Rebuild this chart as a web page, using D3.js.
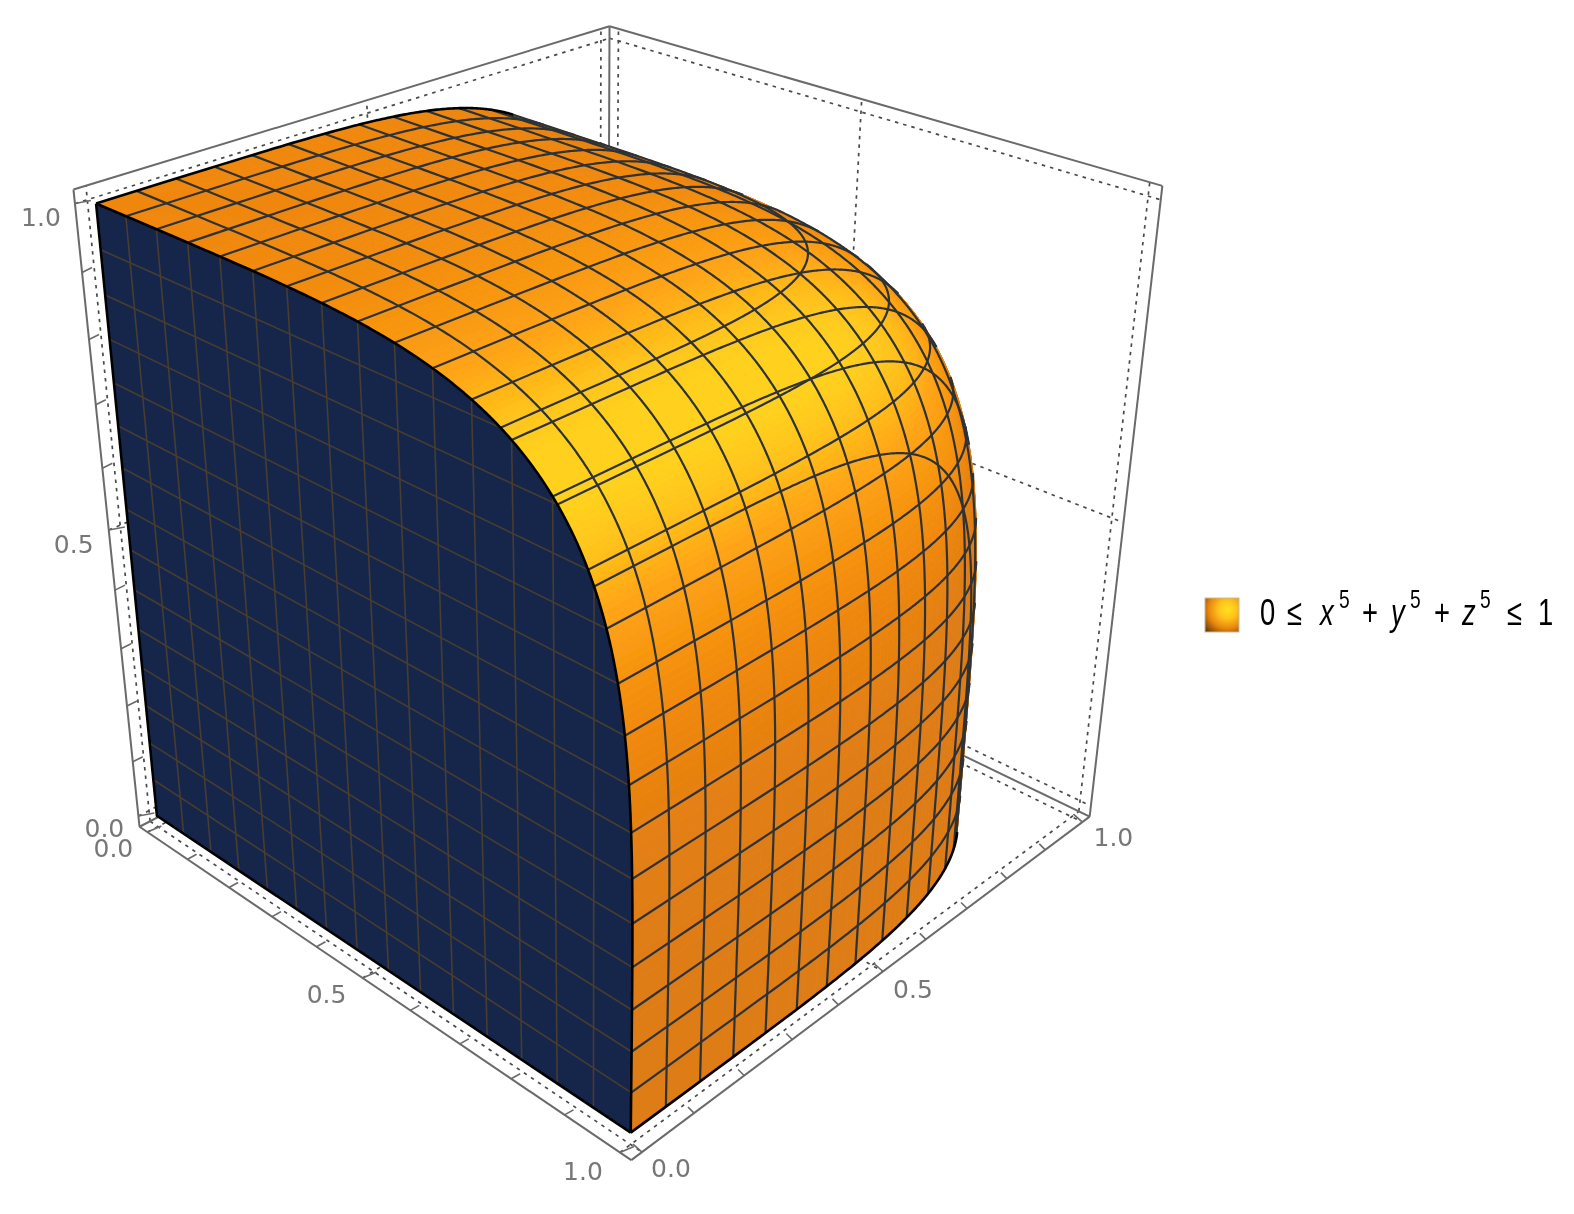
<!DOCTYPE html>
<html><head><meta charset="utf-8">
<script src="https://cdn.jsdelivr.net/npm/d3@7/dist/d3.min.js"></script>
<style>html,body{margin:0;padding:0;background:#fff}svg{display:block}</style>
</head><body><svg id="chart" width="1574" height="1214"><defs><filter id="soft" x="0" y="0" width="100%" height="100%" filterUnits="userSpaceOnUse"><feGaussianBlur stdDeviation="0.45"/></filter></defs></svg>
<script>
// ---- chart content -------------------------------------------------
const exponent = 5;                       // 0 <= x^5 + y^5 + z^5 <= 1
const meshLevels = [1/15,2/15,3/15,4/15,5/15,6/15,7/15,8/15,9/15,10/15,11/15,12/15,13/15,14/15];
const gridLevels = [0, 0.5, 1];
const minorTicks = [0,0.1,0.2,0.3,0.4,0.5,0.6,0.7,0.8,0.9,1];
const tickLabels = ["0.0","0.5","1.0"];
const labelValues = [0,0.5,1];
const boxPad = 0.02;
const legendTokens = ["0","≤","x","5","+","y","5","+","z","5","≤","1"];
const legendX = [1260,1287,1320,1339,1362,1391,1410,1434,1462,1480,1507,1538];
// ---- camera calibration: world point -> pixel of the reference ------
const P0=-boxPad, P1=1+boxPad;
const anchors = [
 [P0,P0,P0,139.3,828.3],[P0,P1,P0,631.7,1160],[P1,P1,P0,1091.7,819.3],
 [P0,P0,P1,71.7,189.3],[P1,P1,P1,1165,186],[P1,P0,P1,610,26],
 [0,0,1,96.7,205],[0,0,0,157,813],[0,1,0,631.7,1133],
 [P1,0.5,P1,863,100],[P1,P1,0.5,1117,519]
];
function solve(A,b){const n=b.length;A=A.map((r,i)=>[...r,b[i]]);
 for(let i=0;i<n;i++){let m=i;for(let r=i+1;r<n;r++)if(Math.abs(A[r][i])>Math.abs(A[m][i]))m=r;
  [A[i],A[m]]=[A[m],A[i]];
  for(let r=0;r<n;r++)if(r!==i){const f=A[r][i]/A[i][i];for(let c=i;c<=n;c++)A[r][c]-=f*A[i][c];}}
 return A.map((r,i)=>r[n]/r[i]);}
const rows=[],rhs=[];
anchors.forEach(([X,Y,Z,u0,v0])=>{const u=u0/1000,v=v0/1000;
 rows.push([X,Y,Z,1,0,0,0,0,-u*X,-u*Y,-u*Z]);rhs.push(u);
 rows.push([0,0,0,0,X,Y,Z,1,-v*X,-v*Y,-v*Z]);rhs.push(v);});
const ATA=d3.range(11).map(i=>d3.range(11).map(j=>d3.sum(rows,r=>r[i]*r[j])));
const ATb=d3.range(11).map(i=>d3.sum(rows,(r,k)=>r[i]*rhs[k]));
const h=solve(ATA,ATb);
const project=(x,y,z)=>{const w=h[8]*x+h[9]*y+h[10]*z+1;
 return [1000*(h[0]*x+h[1]*y+h[2]*z+h[3])/w,1000*(h[4]*x+h[5]*y+h[6]*z+h[7])/w];};
const eye=solve([[h[0],h[1],h[2]],[h[4],h[5],h[6]],[h[8],h[9],h[10]]],[-h[3],-h[7],-1]);
// ---- surface helpers ------------------------------------------------
const pw=2/exponent;
const cs=t=>Math.pow(Math.max(0,Math.cos(t)),pw), sn=t=>Math.pow(Math.max(0,Math.sin(t)),pw);
const normal=(x,y,z)=>{const a=x**4,b=y**4,c=z**4,l=Math.hypot(a,b,c)||1;return [a/l,b/l,c/l];};
const visible=(x,y,z)=>{const n=normal(x,y,z);return n[0]*(eye[0]-x)+n[1]*(eye[1]-y)+n[2]*(eye[2]-z)>0;};
const root=d3.select("#chart").append("g").attr("filter","url(#soft)");
const svg=root;
const line=d3.line().x(d=>project(...d)[0]).y(d=>project(...d)[1]);
// ---- box -------------------------------------------------------------
const gBox=svg.append("g").attr("fill","none");
const boxEdges=[
 [[P0,P0,P1],[P1,P0,P1]],[[P1,P0,P1],[P1,P1,P1]],[[P1,P1,P1],[P1,P1,P0]],
 [[P1,P1,P0],[P0,P1,P0]],[[P0,P1,P0],[P0,P0,P0]],[[P0,P0,P0],[P0,P0,P1]],
 [[P1,P0,P1],[P1,P0,P0]],[[P1,P0,P0],[P1,P1,P0]],[[P1,P0,P0],[P0,P0,P0]]];
const gridLines=[];
gridLevels.forEach(a=>{
 gridLines.push([[P1,a,P0],[P1,a,P1]],[[P1,P0,a],[P1,P1,a]]);   // back right face
 gridLines.push([[a,P0,P0],[a,P0,P1]],[[P0,P0,a],[P1,P0,a]]);   // back left face
 gridLines.push([[a,P0,P0],[a,P1,P0]],[[P0,a,P0],[P1,a,P0]]);   // floor
});
gBox.selectAll(".grid").data(gridLines).join("path").attr("class","grid").attr("d",line)
 .attr("stroke","#4a4a4a").attr("stroke-width",1.7).attr("stroke-dasharray","3.5 5");
gBox.selectAll(".edge").data(boxEdges).join("path").attr("class","edge").attr("d",line)
 .attr("stroke","#6a6a6a").attr("stroke-width",2);
// ---- axes: ticks + labels --------------------------------------------
const axes=[
 {at:v=>[P0,P0,v],minor:[10,-5],major:[16,-3],off:[[-34,12],[-35,14],[-34,13]]},
 {at:v=>[P0,v,P0],minor:[9,-5],major:[14,-6],off:[[-34,16],[-36,16],[-37,19]]},
 {at:v=>[v,P1,P0],minor:[-6,-6],major:[-9,-8],off:[[29,16],[30,17],[31,15]]}];
axes.forEach(ax=>{
 minorTicks.forEach(v=>{const [px,py]=project(...ax.at(v));
  const major=labelValues.some(m=>Math.abs(m-v)<1e-6), o=major?ax.major:ax.minor;
  gBox.append("line").attr("x1",px).attr("y1",py).attr("x2",px+o[0]).attr("y2",py+o[1])
   .attr("stroke","#6a6a6a").attr("stroke-width",1.6);});
 labelValues.forEach((v,i)=>{const [px,py]=project(...ax.at(v));
  svg.append("text").attr("x",px+ax.off[i][0]).attr("y",py+ax.off[i][1]).attr("dy","0.36em")
   .attr("text-anchor","middle").attr("font-family","'DejaVu Sans'").attr("font-size",25)
   .attr("fill","#777").text(tickLabels[i]);});
});
// ---- body ------------------------------------------------------------
const light=[-0.04,0.66,0.75];
const ramp=d3.scaleLinear().domain([-0.04,0.66,0.75,0.89,0.99])
 .range(["#cc7212","#de7c14","#f0880e","#ffa414","#ffd01e"]).clamp(true);
const N=110, cells=[];
const pt=(i,j)=>{const th=i/N*Math.PI/2,ph=j/N*Math.PI/2;return [cs(ph)*cs(th),cs(ph)*sn(th),sn(ph)];};
for(let i=0;i<N;i++)for(let j=0;j<N;j++){
 const q=[pt(i,j),pt(i+1,j),pt(i+1,j+1),pt(i,j+1)];
 if(!q.some(p=>visible(...p)))continue;
 const m=[d3.mean(q,p=>p[0]),d3.mean(q,p=>p[1]),d3.mean(q,p=>p[2])];
 const n=normal(...m);
 cells.push({q,c:ramp(n[0]*light[0]+n[1]*light[1]+n[2]*light[2])});
}
const gBody=svg.append("g");
gBody.selectAll(".cell").data(cells).join("path").attr("class","cell")
 .attr("d",d=>line(d.q)+"Z").attr("fill",d=>d.c).attr("stroke",d=>d.c).attr("stroke-width",0.8);
// navy flat face x = 0
const ts=d3.range(0,301).map(k=>k/300*Math.PI/2);
const faceOutline=[[0,0,0],...ts.map(t=>[0,cs(t),sn(t)])];
gBody.append("path").attr("d",line(faceOutline)+"Z").attr("fill","#16274b");
meshLevels.forEach(c=>{
 const end=Math.pow(1-c**exponent,1/exponent);
 gBody.append("path").attr("d",line([[0,c,0],[0,c,end]])).attr("fill","none").attr("stroke","#473c30").attr("stroke-width",1.6);
 gBody.append("path").attr("d",line([[0,0,c],[0,end,c]])).attr("fill","none").attr("stroke","#473c30").attr("stroke-width",1.6);
});
// mesh on the curved surface
const curve=d3.line().x(d=>project(...d)[0]).y(d=>project(...d)[1]).defined(d=>visible(...d));
meshLevels.forEach(c=>{
 const r=Math.pow(1-c**exponent,1/exponent);
 [t=>[c,r*cs(t),r*sn(t)],t=>[r*cs(t),c,r*sn(t)],t=>[r*cs(t),r*sn(t),c]].forEach(f=>{
  gBody.append("path").attr("d",curve(ts.map(f))).attr("fill","none")
   .attr("stroke","#2e3236").attr("stroke-width",2.2);});
});
// black outline of the solid
[t=>[0,cs(t),sn(t)],t=>[cs(t),0,sn(t)],t=>[cs(t),sn(t),0]].forEach(f=>{
 gBody.append("path").attr("d",curve(ts.map(f))).attr("fill","none").attr("stroke","#000").attr("stroke-width",2.6);});
gBody.append("path").attr("d",line([[0,0,1],[0,0,0],[0,1,0]])).attr("fill","none").attr("stroke","#000").attr("stroke-width",2.6);
// ---- legend ----------------------------------------------------------
const defs=d3.select("#chart defs");
const grad=defs.append("radialGradient").attr("id","swatch").attr("cx","0.66").attr("cy","0.34").attr("r","0.9");
[[0,"#ffe21f"],[0.3,"#ffc21a"],[0.62,"#e8860f"],[0.88,"#8a4f08"],[1,"#5a3406"]].forEach(s=>grad.append("stop").attr("offset",s[0]).attr("stop-color",s[1]));
svg.append("rect").attr("x",1205).attr("y",598).attr("width",34).attr("height",34).attr("fill","url(#swatch)").attr("stroke","#c9b9a0").attr("stroke-width",1);
const sx=0.74, base=625, x0=1260;
const lt=svg.append("text").attr("transform",`translate(${x0},${base}) scale(${sx},1)`)
 .attr("font-family","'Liberation Sans'").attr("fill","#000");
legendTokens.forEach((t,i)=>{
 const sup=t==="5", it=/[xyz]/.test(t);
 lt.append("tspan").attr("x",(legendX[i]-x0)/sx).attr("y",sup?-17:0)
  .attr("font-size",sup?26:37).attr("font-style",it?"italic":"normal").text(t);
});
</script></body></html>
